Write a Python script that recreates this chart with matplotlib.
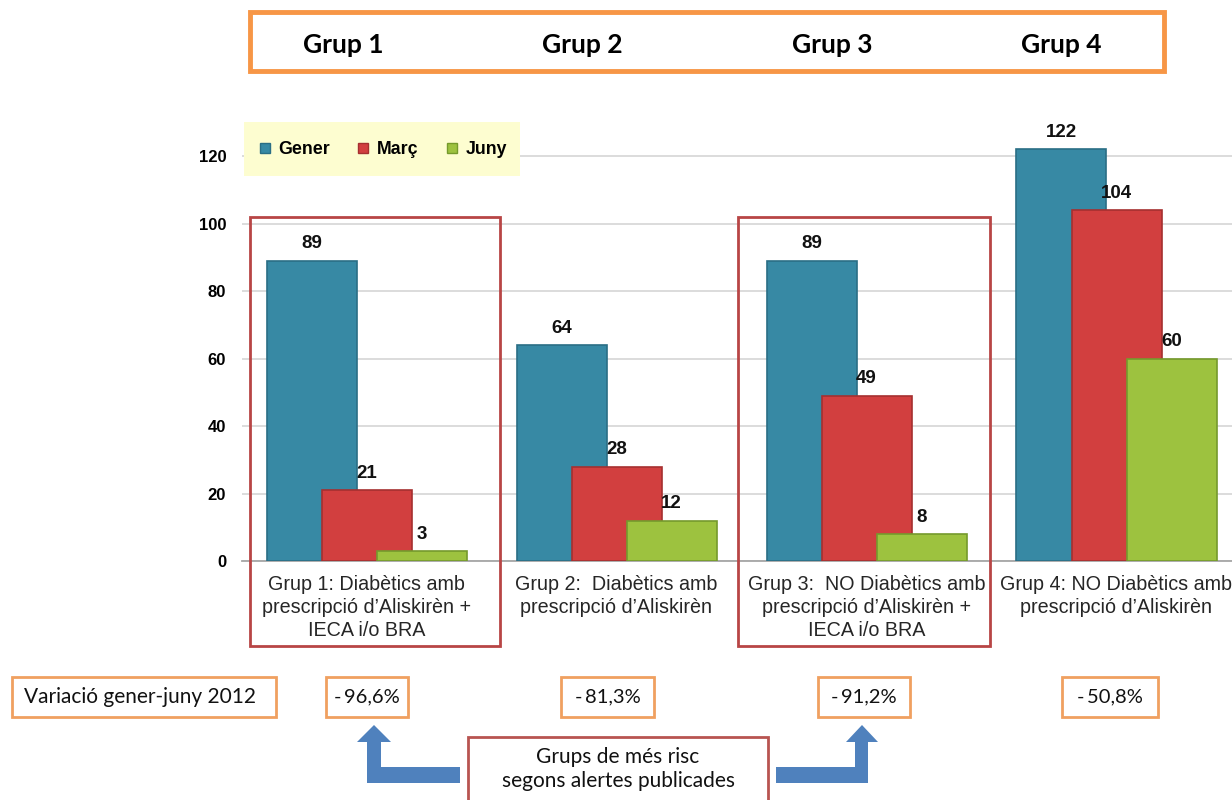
import matplotlib.pyplot as plt
from matplotlib.patches import Rectangle, Polygon
from matplotlib.lines import Line2D
import numpy as np

# data
groups = ['Grup 1', 'Grup 2', 'Grup 3', 'Grup 4']
categories = [
    'Grup 1: Diabètics amb\nprescripció d’Aliskirèn +\nIECA i/o BRA',
    'Grup 2:  Diabètics amb\nprescripció d’Aliskirèn',
    'Grup 3:  NO Diabètics amb\nprescripció d’Aliskirèn +\nIECA i/o BRA',
    'Grup 4: NO Diabètics amb\nprescripció d’Aliskirèn',
]
months = ['Gener', 'Març', 'Juny']
gener = [89, 64, 89, 122]
marc = [21, 28, 49, 104]
juny = [3, 12, 8, 60]
variacio = ['- 96,6%', '- 81,3%', '- 91,2%', '- 50,8%']
risk_text = 'Grups de més risc\nsegons alertes publicades'
variacio_title = 'Variació gener-juny 2012'

W, H = 1232, 800


def fx(x):
    return x / W


def fy(y):
    return 1 - y / H


def fig_rect(ax, x0, y0, x1, y1, **kw):
    r = Rectangle((fx(x0), fy(y1)), (x1 - x0) / W, (y1 - y0) / H,
                  transform=ax.figure.transFigure, clip_on=False, **kw)
    ax.add_patch(r)
    return r


plt.rcParams['font.family'] = ['Liberation Sans', 'DejaVu Sans']
calibri_like = ['Lato', 'DejaVu Sans']

fig = plt.figure(figsize=(W / 100, H / 100), dpi=100)
ax_left, ax_bottom, ax_top = 241.5, 561, 88.5
ax = fig.add_axes([fx(ax_left), fy(ax_bottom), (W - ax_left) / W, (ax_bottom - ax_top) / H])

colors = ['#3789a4', '#d23f3f', '#9dc23f']
edges = ['#2a6e85', '#a53030', '#759a2c']
x = np.arange(len(groups))
width = 0.36
offs = [-0.22, 0.0, 0.22]
for vals, off, c, e in zip([gener, marc, juny], offs, colors, edges):
    bars = ax.bar(x + off, vals, width, color=c, edgecolor=e, linewidth=1.2, zorder=3)
    ax.bar_label(bars, padding=6, fontsize=13.5, fontweight='bold', color='#111111')

ax.set_xlim(-0.5, 3.5 - 9.5 / 250)
ax.set_ylim(0, 140)
ax.set_yticks(range(0, 121, 20))
ax.yaxis.grid(True, color='#d9d9d9', linewidth=1.3, zorder=0)
ax.set_axisbelow(True)
for s in ['top', 'right', 'left']:
    ax.spines[s].set_visible(False)
ax.spines['bottom'].set_color('#a6a6a6')
ax.spines['bottom'].set_linewidth(1.3)
ax.tick_params(axis='y', length=0, pad=11, labelsize=12)
for t in ax.get_yticklabels():
    t.set_fontweight('bold')
ax.set_xticks(x)
ax.set_xticklabels(categories, fontsize=14.2, color='#262626', linespacing=1.27)
ax.tick_params(axis='x', length=0, pad=10)

# legend with pale yellow background
fig_rect(ax, 244, 122, 520, 176, facecolor='#fdfdd0', edgecolor='none', zorder=1)
handles = [Line2D([], [], marker='s', linestyle='none', markersize=6.5,
                  markerfacecolor=c, markeredgecolor=e) for c, e in zip(colors, edges)]
leg = ax.legend(handles, months, loc='center', bbox_to_anchor=(fx(383), fy(150)),
                bbox_transform=fig.transFigure, ncol=3, frameon=False,
                handlelength=0.6, handletextpad=0.45, columnspacing=1.6,
                prop={'weight': 'bold', 'size': 12.8})

# red boxes around high risk groups
for x0, x1 in [(250, 500), (738, 990)]:
    fig_rect(ax, x0, 217, x1, 646, fill=False, edgecolor='#b84545', linewidth=2, zorder=6)

# top header box
fig_rect(ax, 250, 12, 1164, 71, fill=False, edgecolor='#f79646', linewidth=3.5, zorder=6)
for g, gx in zip(groups, [343, 582, 832, 1061]):
    fig.text(fx(gx), fy(45), g, ha='center', va='center', fontsize=19,
             fontweight='bold', family=calibri_like)

# bottom variation row
fig_rect(ax, 12, 677, 276, 717, fill=False, edgecolor='#f0a060', linewidth=2, zorder=6)
fig.text(fx(140), fy(697), variacio_title, ha='center', va='center', fontsize=15,
         family=calibri_like, color='#111111')
for lab, (x0, x1) in zip(variacio, [(326, 408), (561, 654), (818, 910), (1062, 1158)]):
    fig_rect(ax, x0, 677, x1, 717, fill=False, edgecolor='#f0a060', linewidth=2, zorder=6)
    fig.text(fx((x0 + x1) / 2), fy(697), lab.replace('- ', '-\u2009'), ha='center',
             va='center', fontsize=14.5, family=calibri_like, color='#111111')

# risk box and arrows
fig_rect(ax, 468, 737, 768, 805, fill=False, edgecolor='#b85450', linewidth=2, zorder=6)
fig.text(fx(618), fy(769), risk_text, ha='center', va='center', fontsize=15,
         linespacing=1.3, family=calibri_like, color='#111111')

arrow_color = '#4f81bd'
left_arrow = [(460, 767), (460, 783), (367, 783), (367, 742), (357, 742), (374, 725),
              (391, 742), (381, 742), (381, 767)]
right_arrow = [(776, 767), (776, 783), (868, 783), (868, 742), (878, 742), (862, 725),
               (846, 742), (855, 742), (855, 767)]
for pts in [left_arrow, right_arrow]:
    poly = Polygon([(fx(px), fy(py)) for px, py in pts], closed=True,
                   transform=fig.transFigure, facecolor=arrow_color, edgecolor='none',
                   clip_on=False, zorder=6)
    ax.add_patch(poly)

fig.savefig('out.png', dpi=100)
